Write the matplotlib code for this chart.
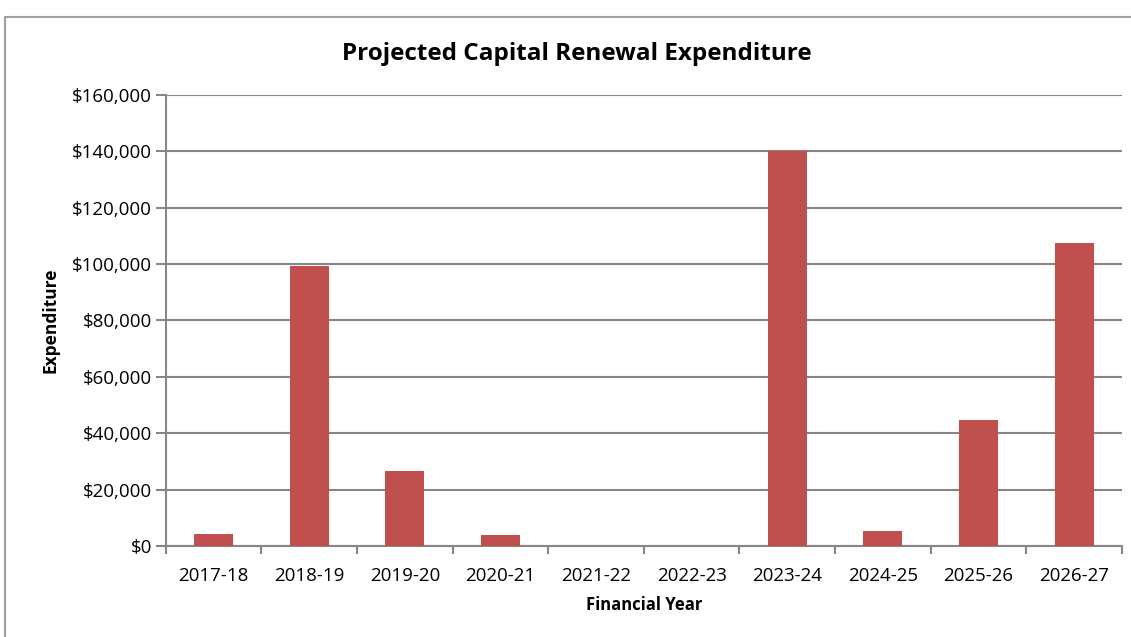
import numpy as np
import matplotlib
matplotlib.use('Agg')
import matplotlib.pyplot as plt
from matplotlib.ticker import FuncFormatter, FixedLocator
from matplotlib.patches import Rectangle

years = ['2017-18', '2018-19', '2019-20', '2020-21', '2021-22',
         '2022-23', '2023-24', '2024-25', '2025-26', '2026-27']
expenditure = [4200, 99300, 26700, 3800, 0, 0, 140200, 5200, 44600, 107400]

plt.rcParams['font.family'] = ['Open Sans', 'DejaVu Sans']
grey = '#868686'

fig = plt.figure(figsize=(11.31, 6.37), dpi=100)
fig.patches.append(Rectangle((0.004, -0.01), 1.1, 0.983, transform=fig.transFigure,
                             fill=False, edgecolor='#a0a0a0', linewidth=1.5))
ax = fig.add_axes([0.1465, 0.143, 0.8455, 0.708])

x = np.arange(len(years))
ax.bar(x, expenditure, width=0.41, color='#C0504D', zorder=3)

ax.set_xlim(-0.5, len(years) - 0.5)
ax.set_ylim(0, 160000)
ax.set_yticks(np.arange(0, 160001, 20000))
ax.yaxis.set_major_formatter(FuncFormatter(lambda v, p: '${:,.0f}'.format(v)))
ax.grid(axis='y', color=grey, linewidth=1.5, zorder=0)

ax.set_xticks(x)
ax.set_xticklabels(years)
ax.xaxis.set_minor_locator(FixedLocator(np.arange(-0.5, len(years), 1.0)))
ax.tick_params(axis='x', which='major', length=0, labelsize=13.5, pad=15, colors='black')
ax.tick_params(axis='x', which='minor', length=6, width=1.5, color=grey, direction='out')
ax.tick_params(axis='y', length=7, width=1.5, color=grey, labelsize=13.5, pad=3)

for s in ['top', 'right']:
    ax.spines[s].set_visible(False)
for s in ['left', 'bottom']:
    ax.spines[s].set_color(grey)
    ax.spines[s].set_linewidth(1.5)

ax.set_xlabel('Financial Year', fontsize=12, fontweight='bold', labelpad=8)
ax.set_ylabel('Expenditure', fontsize=12.5, fontweight='bold', labelpad=9)
fig.text(0.51, 0.915, 'Projected Capital Renewal Expenditure', ha='center', va='center',
         fontsize=17.5, fontweight='bold')

fig.savefig('out.png', dpi=100)
